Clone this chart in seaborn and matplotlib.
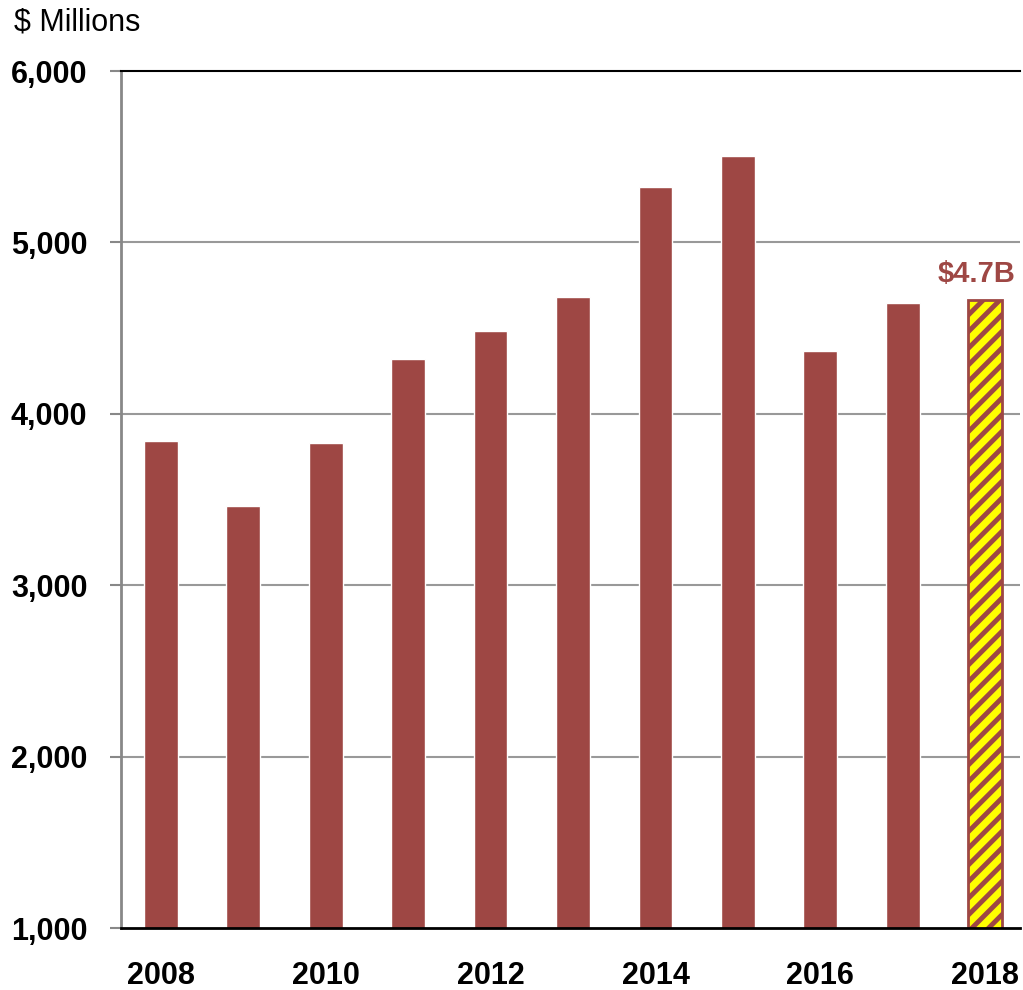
import matplotlib
matplotlib.use('Agg')
import matplotlib.pyplot as plt
import seaborn as sns
import pandas as pd

years = [2008, 2009, 2010, 2011, 2012, 2013, 2014, 2015, 2016, 2017, 2018]
values = [3840, 3460, 3830, 4320, 4485, 4680, 5325, 5505, 4365, 4645, 4665]
y_ticks = [1000, 2000, 3000, 4000, 5000, 6000]
x_labels = ['2008', '', '2010', '', '2012', '', '2014', '', '2016', '', '2018']
last_label = '$4.7B'

bar_color = '#9E4744'
sns.set_theme(style='white')
plt.rcParams['font.family'] = ['Liberation Sans Narrow', 'Liberation Sans', 'DejaVu Sans']
plt.rcParams['text.color'] = 'black'
plt.rcParams['xtick.color'] = 'black'
plt.rcParams['ytick.color'] = 'black'
plt.rcParams['hatch.color'] = bar_color
plt.rcParams['hatch.linewidth'] = 3.5

df = pd.DataFrame({'year': [str(y) for y in years], 'value': values})

fig = plt.figure(figsize=(10.23, 9.9), dpi=100)
ax = fig.add_axes([0.118, 0.0626, 0.879, 0.8656])
sns.barplot(data=df, x='year', y='value', color=bar_color, saturation=1, width=0.41, ax=ax)

# forecast bar for the last year
last = ax.patches[-1]
last.set_facecolor('#FFFF00')
last.set_edgecolor(bar_color)
last.set_hatch('//')
last.set_linewidth(2)

ax.set_ylim(1000, 6000)
ax.set_xlim(-0.485, 10.42)
ax.set_yticks(y_ticks)
ax.set_yticklabels([f'{v:,}' for v in y_ticks], fontsize=22, fontweight='bold')
ax.set_xticks(range(len(years)))
ax.set_xticklabels(x_labels, fontsize=22, fontweight='bold')
ax.tick_params(axis='x', length=0, pad=24, labelcolor='black')
ax.tick_params(axis='y', length=8, width=1.5, color='#888888', pad=16, left=True,
               labelcolor='black')
ax.set_xlabel('')
ax.set_ylabel('')
for v in y_ticks[1:-1]:
    ax.axhline(v, color='#999999', linewidth=1.5, zorder=0)
ax.spines['top'].set_color('black')
ax.spines['top'].set_linewidth(1.5)
ax.spines['bottom'].set_color('black')
ax.spines['bottom'].set_linewidth(2)
ax.spines['left'].set_color('#888888')
ax.spines['left'].set_linewidth(2)
ax.spines['right'].set_visible(False)

ax.text(9.9, values[-1] + 70, last_label, ha='center', va='bottom',
        fontsize=21, fontweight='bold', color=bar_color)
fig.text(0.014, 0.977, '$ Millions', ha='left', va='center', fontsize=22, color='black')

fig.savefig('out.png', dpi=100)
